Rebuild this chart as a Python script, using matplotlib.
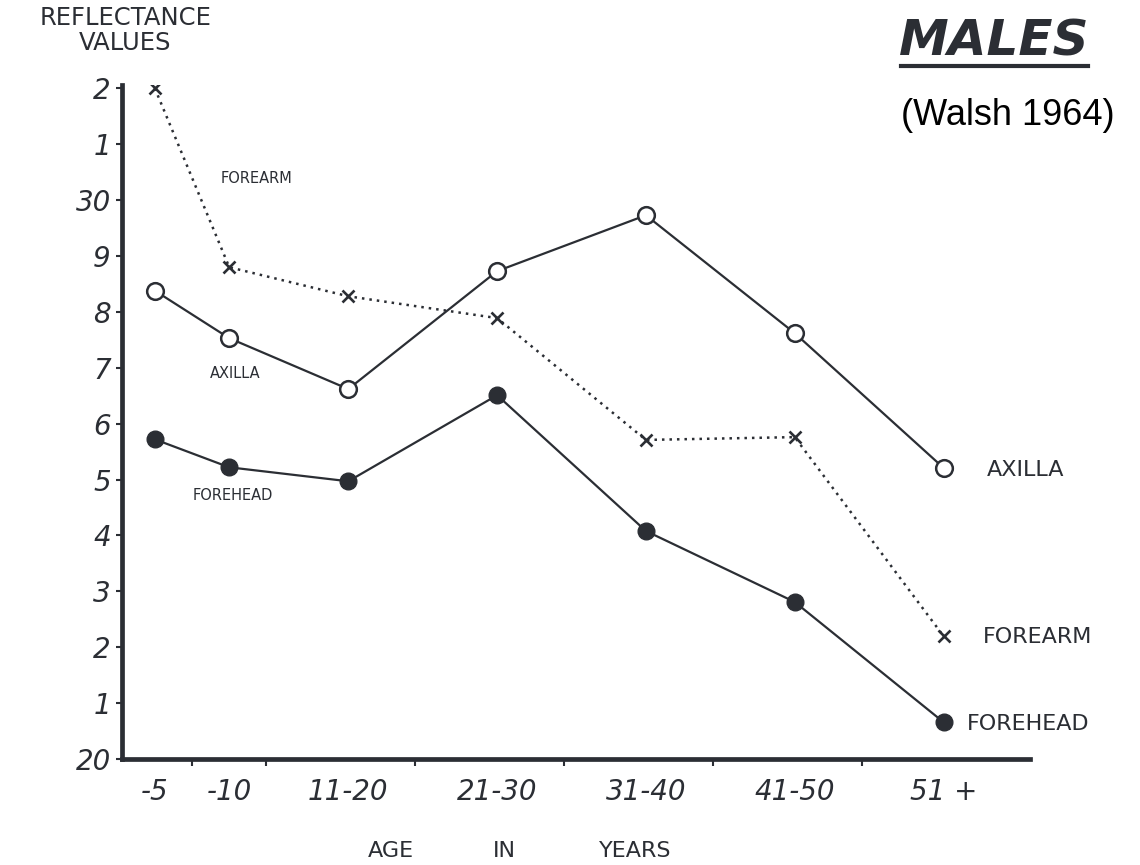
import matplotlib.pyplot as plt
from matplotlib.lines import Line2D

# age groups, plotted at the middle of each age range
age_labels = ["-5", "-10", "11-20", "21-30", "31-40", "41-50", "51 +"]
age_mid = [2.5, 7.5, 15.5, 25.5, 35.5, 45.5, 55.5]
age_bounds = [5, 10, 20, 30, 40, 50]

axilla = [28.38, 27.53, 26.62, 28.73, 29.73, 27.62, 25.21]
forearm = [32.0, 28.80, 28.28, 27.89, 25.71, 25.76, 22.20]
forehead = [25.72, 25.22, 24.97, 26.51, 24.08, 22.81, 20.66]

y_ticks = list(range(20, 33))
y_tick_labels = ["20", "1", "2", "3", "4", "5", "6", "7", "8", "9", "30", "1", "2"]

ink = "#2b2e34"

fig = plt.figure(figsize=(11.4, 8.65), dpi=100)
ax = fig.add_axes([0.107, 0.1225, 0.7965, 0.7792])

ax.plot(age_mid, axilla, color=ink, lw=1.6, marker="o", ms=12,
        mfc="white", mec=ink, mew=1.8, zorder=3)
ax.plot(age_mid, forearm, color=ink, lw=1.8, ls=(0, (1, 2)), marker="x",
        ms=9, mec=ink, mew=1.9, zorder=3)
ax.plot(age_mid, forehead, color=ink, lw=1.6, marker="o", ms=12,
        mfc=ink, mec=ink, zorder=3)

ax.set_xlim(0.29, 61.31)
ax.set_ylim(20, 32.06)

for s in ["top", "right"]:
    ax.spines[s].set_visible(False)
for s in ["left", "bottom"]:
    ax.spines[s].set_linewidth(3.4)
    ax.spines[s].set_color(ink)

ax.set_xticks(age_mid)
ax.set_xticklabels(age_labels, fontsize=20, style="italic", color=ink)
ax.set_xticks(age_bounds, minor=True)
ax.tick_params(axis="x", which="major", length=0, pad=14)
ax.tick_params(axis="x", which="minor", length=5, width=1.5, color=ink)

ax.set_yticks(y_ticks)
ax.set_yticklabels(y_tick_labels, fontsize=20, style="italic", color=ink)
ax.tick_params(axis="y", length=4, width=1.5, color=ink, pad=4)

# curve labels inside the plot
small = dict(fontsize=10.5, color=ink, ha="center", va="center")
ax.text(9.30, 30.38, "FOREARM", **small)
ax.text(7.88, 26.89, "AXILLA", **small)
ax.text(7.75, 24.72, "FOREHEAD", **small)

# curve labels at the right end
big = dict(fontsize=16, color=ink, ha="left", va="center")
ax.text(58.41, 25.17, "AXILLA", **big)
ax.text(58.15, 22.18, "FOREARM", **big)
ax.text(57.07, 20.63, "FOREHEAD", **big)

fig.text(0.11, 0.993, "REFLECTANCE\nVALUES", fontsize=17.5, color=ink,
         ha="center", va="top", linespacing=1.05)

# x axis title, words spread apart as in the original
for word, xf in [("AGE", 0.343), ("IN", 0.442), ("YEARS", 0.557)]:
    fig.text(xf, 0.016, word, fontsize=16, color=ink, ha="center", va="center")

fig.text(0.872, 0.936, "MALES", fontsize=36, weight="bold", style="italic",
         color=ink, ha="center", va="baseline")
fig.add_artist(Line2D([0.79, 0.954], [0.924, 0.924], color=ink, lw=3,
                      transform=fig.transFigure))
fig.text(0.884, 0.867, "(Walsh 1964)", fontsize=26, family="Liberation Sans",
         color="black", ha="center", va="center")

fig.savefig("out.png", dpi=100)
